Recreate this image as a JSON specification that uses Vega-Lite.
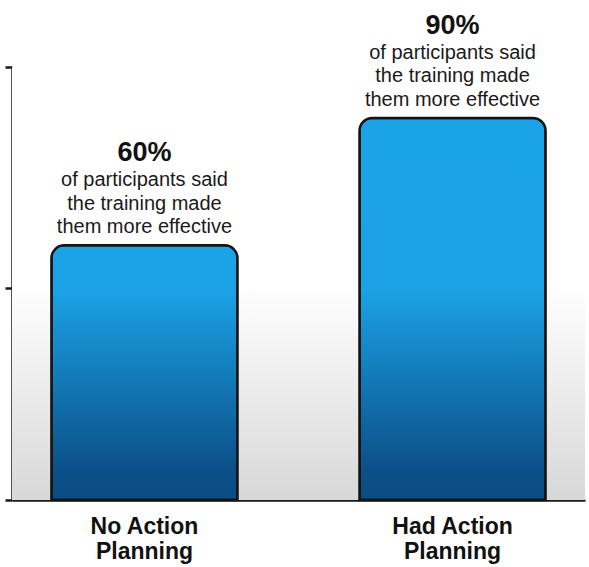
{
  "$schema": "https://vega.github.io/schema/vega-lite/v6.json",
  "width": 573,
  "height": 433,
  "autosize": {"type": "none"},
  "padding": {"left": 12, "top": 67, "right": 4, "bottom": 67},
  "background": "white",
  "config": {
    "view": {"stroke": null},
    "font": "Liberation Sans",
    "text": {"font": "Liberation Sans"},
    "axisX": {
      "title": null,
      "labelAngle": 0,
      "ticks": false,
      "domainColor": "#1a1a1a",
      "domainWidth": 2.5,
      "labelFont": "Liberation Sans",
      "labelFontWeight": "bold",
      "labelFontSize": 23,
      "labelLineHeight": 25,
      "labelColor": "#111111",
      "labelPadding": 15,
      "grid": false
    },
    "axisY": {
      "title": null,
      "labels": false,
      "grid": false,
      "tickSize": 7,
      "tickWidth": 2.5,
      "tickColor": "#1a1a1a",
      "domainColor": "#1a1a1a",
      "domainWidth": 2.5
    }
  },
  "data": {
    "values": [
      {"group": "No Action Planning", "value": 60, "pct": "60%", "note": "of participants said\nthe training made\nthem more effective"},
      {"group": "Had Action Planning", "value": 90, "pct": "90%", "note": "of participants said\nthe training made\nthem more effective"}
    ]
  },
  "layer": [
    {
      "data": {"values": [{"lo": 0, "hi": 102}]},
      "mark": {
        "type": "rect",
        "fill": {
          "gradient": "linear", "x1": 0, "y1": 0, "x2": 0, "y2": 1,
          "stops": [
            {"offset": 0, "color": "#ffffff"},
            {"offset": 0.5, "color": "#ffffff"},
            {"offset": 1, "color": "#d8d8d8"}
          ]
        }
      },
      "encoding": {
        "y": {"field": "lo", "type": "quantitative", "scale": {"domain": [0, 102], "nice": false}, "axis": {"values": [0, 50, 102]}},
        "y2": {"field": "hi"}
      }
    },
    {
      "transform": [{"filter": "datum.group == 'No Action Planning'"}],
      "mark": {
        "type": "bar",
        "cornerRadiusTopLeft": 13,
        "cornerRadiusTopRight": 13,
        "stroke": "#141414",
        "strokeWidth": 2.5,
        "fill": {
          "gradient": "linear", "x1": 0, "y1": 0, "x2": 0, "y2": 1,
          "stops": [
            {"offset": 0, "color": "#1ba3e7"},
            {"offset": 0.18, "color": "#1ba2e6"},
            {"offset": 0.88, "color": "#0b5088"},
            {"offset": 1, "color": "#0a4d84"}
          ]
        }
      },
      "encoding": {
        "x": {
          "field": "group", "type": "nominal", "sort": ["No Action Planning", "Had Action Planning"],
          "scale": {"domain": ["No Action Planning", "Had Action Planning"], "paddingInner": 0.396, "paddingOuter": 0.128},
          "axis": {"labelExpr": "[slice(datum.label, 0, -9), 'Planning']"}
        },
        "y": {"field": "value", "type": "quantitative", "scale": {"domain": [0, 102], "nice": false}, "axis": {"values": [0, 50, 102]}}
      }
    },
    {
      "transform": [{"filter": "datum.group == 'Had Action Planning'"}],
      "mark": {
        "type": "bar",
        "cornerRadiusTopLeft": 13,
        "cornerRadiusTopRight": 13,
        "stroke": "#141414",
        "strokeWidth": 2.5,
        "fill": {
          "gradient": "linear", "x1": 0, "y1": 0, "x2": 0, "y2": 1,
          "stops": [
            {"offset": 0, "color": "#1ba3e7"},
            {"offset": 0.45, "color": "#1ba2e6"},
            {"offset": 0.92, "color": "#0b5088"},
            {"offset": 1, "color": "#0a4d84"}
          ]
        }
      },
      "encoding": {
        "x": {
          "field": "group", "type": "nominal", "sort": ["No Action Planning", "Had Action Planning"],
          "scale": {"domain": ["No Action Planning", "Had Action Planning"], "paddingInner": 0.396, "paddingOuter": 0.128},
          "axis": {"labelExpr": "[slice(datum.label, 0, -9), 'Planning']"}
        },
        "y": {"field": "value", "type": "quantitative", "scale": {"domain": [0, 102], "nice": false}, "axis": {"values": [0, 50, 102]}}
      }
    },
    {
      "mark": {"type": "text", "lineBreak": "\n", "baseline": "middle", "align": "center", "dy": -65, "fontSize": 20, "lineHeight": 23.5, "color": "#1a1a1a"},
      "encoding": {
        "x": {
          "field": "group", "type": "nominal", "sort": ["No Action Planning", "Had Action Planning"],
          "scale": {"domain": ["No Action Planning", "Had Action Planning"], "paddingInner": 0.396, "paddingOuter": 0.128},
          "axis": {"labelExpr": "[slice(datum.label, 0, -9), 'Planning']"}
        },
        "y": {"field": "value", "type": "quantitative", "scale": {"domain": [0, 102], "nice": false}, "axis": {"values": [0, 50, 102]}},
        "text": {"field": "note"}
      }
    },
    {
      "mark": {"type": "text", "baseline": "middle", "align": "center", "dy": -92, "fontSize": 27, "fontWeight": "bold", "color": "#111111"},
      "encoding": {
        "x": {
          "field": "group", "type": "nominal", "sort": ["No Action Planning", "Had Action Planning"],
          "scale": {"domain": ["No Action Planning", "Had Action Planning"], "paddingInner": 0.396, "paddingOuter": 0.128},
          "axis": {"labelExpr": "[slice(datum.label, 0, -9), 'Planning']"}
        },
        "y": {"field": "value", "type": "quantitative", "scale": {"domain": [0, 102], "nice": false}, "axis": {"values": [0, 50, 102]}},
        "text": {"field": "pct"}
      }
    }
  ]
}
